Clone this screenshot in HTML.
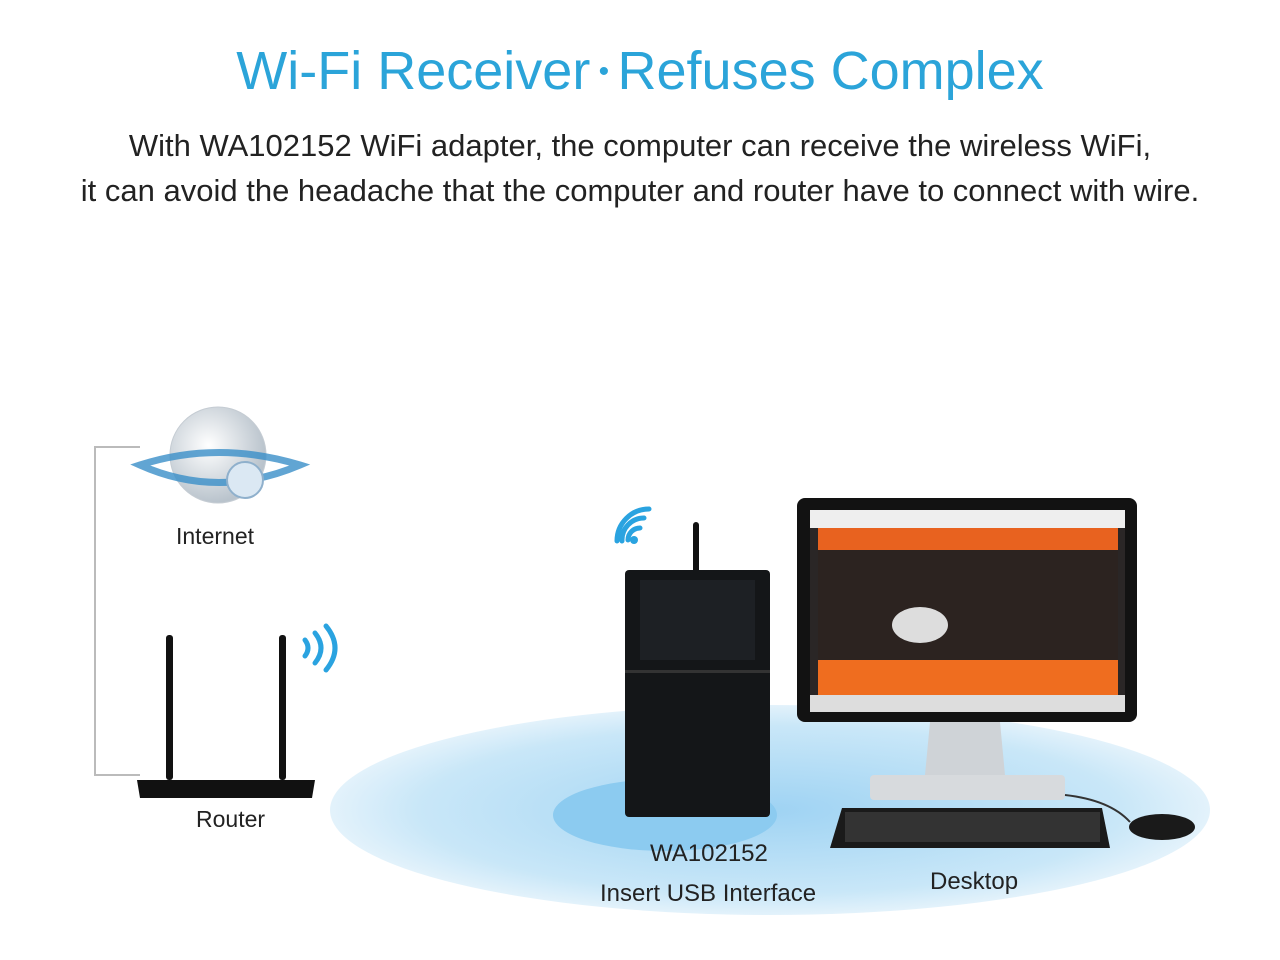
<!DOCTYPE html>
<html><head><meta charset="utf-8"><style>
html,body{margin:0;padding:0;background:#fff;}
body{width:1280px;height:960px;position:relative;overflow:hidden;font-family:"Liberation Sans",sans-serif;}
.t{position:absolute;white-space:nowrap;}
</style></head><body>
<div class="t" style="left:0;width:1280px;text-align:center;top:40px;font-size:54px;color:#2ba4d9;">Wi-Fi Receiver<span style="font-size:30px;position:relative;top:-8px;"> • </span>Refuses Complex</div>
<div class="t" style="left:0;width:1280px;text-align:center;top:128px;font-size:31px;color:#222;">With WA102152 WiFi adapter, the computer can receive the wireless WiFi,</div>
<div class="t" style="left:0;width:1280px;text-align:center;top:173px;font-size:31px;color:#222;">it can avoid the headache that the computer and router have to connect with wire.</div>
<svg width="1280" height="960" style="position:absolute;left:0;top:0" xmlns="http://www.w3.org/2000/svg">
<defs>
<radialGradient id="eg" cx="50%" cy="50%" r="50%"><stop offset="0" stop-color="#9fd3f3"/><stop offset="0.8" stop-color="#c9e7f8"/><stop offset="1" stop-color="#e3f2fb"/></radialGradient>
<radialGradient id="gl" cx="40%" cy="40%" r="60%"><stop offset="0" stop-color="#fff"/><stop offset="1" stop-color="#b9c3cc"/></radialGradient>
</defs>
<ellipse cx="770" cy="810" rx="440" ry="105" fill="url(#eg)"/>
<ellipse cx="665" cy="815" rx="112" ry="36" fill="#8ccbf0"/>
<polyline points="140,447 95,447 95,775 140,775" fill="none" stroke="#bbb" stroke-width="2"/>
<circle cx="218" cy="455" r="48" fill="url(#gl)" stroke="#c5ccd3"/>
<path d="M140 465 Q218 440 300 465 Q218 500 140 465Z" fill="none" stroke="#3a8fc8" stroke-width="7" opacity="0.8"/>
<circle cx="245" cy="480" r="18" fill="#dbe8f3" stroke="#8fb0cc" stroke-width="2"/>
<rect x="166" y="635" width="7" height="145" fill="#111" rx="3"/>
<rect x="279" y="635" width="7" height="145" fill="#111" rx="3"/>
<path d="M137 780 L315 780 L312 798 L140 798Z" fill="#111"/>
<path d="M305 640 q6 8 0 16 M315 633 q12 15 0 30 M326 626 q18 22 0 44" fill="none" stroke="#2aa3e0" stroke-width="5" stroke-linecap="round"/>
<path d="M628 540 a12 12 0 0 1 12 -12 M622 541 a22 22 0 0 1 22 -23 M617 541 a32 32 0 0 1 32 -32" fill="none" stroke="#2aa3e0" stroke-width="5" stroke-linecap="round"/>
<circle cx="634" cy="540" r="4" fill="#2aa3e0"/>
<rect x="693" y="522" width="6" height="100" fill="#111" rx="3"/>
<rect x="625" y="570" width="145" height="247" fill="#141618" rx="4"/>
<rect x="625" y="670" width="145" height="3" fill="#333"/>
<rect x="640" y="580" width="115" height="80" fill="#1d2024"/>
<rect x="797" y="498" width="340" height="224" rx="8" fill="#121212"/>
<rect x="810" y="510" width="315" height="202" fill="#2a2626"/>
<rect x="810" y="510" width="315" height="18" fill="#eee"/>
<rect x="818" y="528" width="300" height="22" fill="#e8621f"/>
<rect x="818" y="550" width="300" height="110" fill="#2c2320"/>
<rect x="818" y="660" width="300" height="35" fill="#ef6d1f"/>
<rect x="810" y="695" width="315" height="17" fill="#ddd"/>
<ellipse cx="920" cy="625" rx="28" ry="18" fill="#ddd"/>
<path d="M930 722 L1000 722 L1005 775 L925 775Z" fill="#cfd3d7"/>
<rect x="870" y="775" width="195" height="25" rx="4" fill="#d7dadd"/>
<path d="M842 808 L1102 808 L1110 848 L830 848Z" fill="#1a1a1a"/>
<rect x="845" y="812" width="255" height="30" fill="#333"/>
<ellipse cx="1162" cy="827" rx="33" ry="13" fill="#1a1a1a"/>
<path d="M1065 795 Q1110 800 1130 822" fill="none" stroke="#333" stroke-width="2"/>
</svg>
<div class="t" style="left:176px;top:523px;font-size:23px;color:#222;">Internet</div>
<div class="t" style="left:196px;top:806px;font-size:23px;color:#222;">Router</div>
<div class="t" style="left:650px;top:840px;font-size:24px;color:#222;">WA102152</div>
<div class="t" style="left:600px;top:880px;font-size:24px;color:#222;">Insert USB Interface</div>
<div class="t" style="left:930px;top:868px;font-size:24px;color:#222;">Desktop</div>
</body></html>
